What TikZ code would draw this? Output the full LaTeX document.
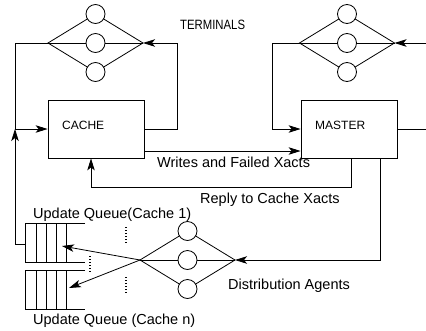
\documentclass[tikz,border=0pt]{standalone}
\usepackage{fontspec}
\setmainfont{Liberation Sans}
\usetikzlibrary{arrows.meta}
\begin{document}
\begin{tikzpicture}[x=1pt,y=-1pt,
  wire/.style={line width=0.8pt},
  tip/.style={-{Stealth[length=12pt,width=7.5pt,inset=3pt]}},
  term/.style={circle,draw,line width=0.8pt,fill=white,minimum size=19pt,inner sep=0pt},
  box/.style={draw,line width=0.8pt,minimum width=96pt,minimum height=58pt,inner sep=0pt},
  lbl/.style={anchor=base west,inner sep=0pt,font=\fontsize{14.5}{17}\selectfont},
  boxlbl/.style={anchor=base west,inner sep=0pt,font=\fontsize{12}{14}\selectfont},
  dots/.style={line width=1.2pt,dash pattern=on 1.2pt off 1.8pt},
  agents/.pic={
    \coordinate (-L) at (-47.5,0);
    \coordinate (-R) at (47.5,0);
    \coordinate (-T) at (0,-29);
    \coordinate (-B) at (0,29);
    \draw[wire] (-L) -- (-T) -- (-R) -- (-B) -- cycle;
    \draw[wire] (-L) -- (-R);
    \node[term] (-a) at (-T) {};
    \node[term] (-b) at (0,0) {};
    \node[term] (-c) at (-B) {};
  }]
\useasboundingbox (0,0) rectangle (426,330);

% terminal groups and distribution agents
\pic (T1) at (95.5,43) {agents};
\pic (T2) at (347,43) {agents};
\pic (D) at (187.5,260) {agents};

% processing nodes
\node[box] (cache) at (96,129) {};
\node[box] (master) at (349,129) {};
\node[boxlbl] (cachelbl) at (62,129) {CACHE};
\node[boxlbl] (masterlbl) at (315,129) {MASTER};
\node[boxlbl,font=\fontsize{13.5}{15}\selectfont] (termlbl) at (180,29) {\scalebox{0.84}[1]{TERMINALS}};

% bend points and free ends
\coordinate (jl) at (15,129);
\coordinate (jq) at (15,244);
\coordinate (cr1) at (177,129);
\coordinate (cr2) at (177,43);
\coordinate (ml1) at (272,43);
\coordinate (ml2) at (272,129);
\coordinate (inR) at (426,43);
\coordinate (outR) at (426,129);
\coordinate (rr) at (351,187);
\coordinate (rl) at (91,187);
\coordinate (dr) at (380,260);
\coordinate (q1) at (25,244);
\coordinate (q1tip) at (62,246);
\coordinate (q2tip) at (69,288);

% terminal loops
\draw[wire,tip] (T1-L) -| (jl) -- (cache.west);
\draw[wire,tip] (cache.east) -- (cr1) -- (cr2) -- (T1-R);
\draw[wire,tip] (T2-L) -- (ml1) -- (ml2) -- (master.west);
\draw[wire,tip] (inR) -- (T2-R);
\draw[wire] (master.east) -- (outR);

% cache <-> master traffic
\draw[wire,tip] ([yshift=-22pt]cache.east) -- ([yshift=-22pt]master.west);
\draw[wire,tip] (master.south -| rr) -- (rr) -- (rl) -- (cache.south -| rl);
\draw[wire,tip] (master.south -| dr) -- (dr) -- (D-R);

% update queues
\foreach \t/\b in {223/262, 270.5/309.5}{
  \draw[wire] (85,\t) -- (25,\t) -- (25,\b) -- (85,\b);
  \foreach \x in {36,46,56,66}{
    \draw[wire] (\x,\t) -- (\x,\b);
  }
}
\draw[dots] (126,227) -- (126,243);
\draw[dots] (126,277) -- (126,294);
\draw[dots] (90,256) -- (90,272);

\draw[wire,tip] (D-L) -- (q1tip);
\draw[wire,tip] (D-L) -- (q2tip);
\draw[wire,tip] (q1) -- (jq) -- (jl);

% labels
\node[lbl] (wlbl) at (157,167) {Writes and Failed Xacts};
\node[lbl] (rlbl) at (200,203) {Reply to Cache Xacts};
\node[lbl] (q1lbl) at (33,218) {Update Queue(Cache 1)};
\node[lbl] (q2lbl) at (33,324) {Update Queue (Cache n)};
\node[lbl] (dlbl) at (228,289) {Distribution Agents};
\end{tikzpicture}
\end{document}
